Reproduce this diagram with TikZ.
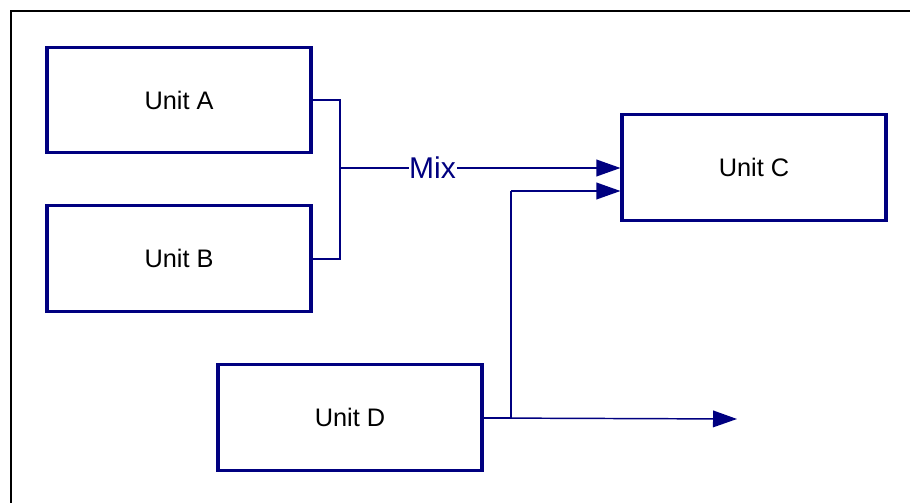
\documentclass[tikz,border=0pt]{standalone}
\usepackage{fontspec}
\setmainfont{Liberation Sans}
\usetikzlibrary{arrows.meta}
\definecolor{navy}{HTML}{000080}
\begin{document}
\begin{tikzpicture}[x=0.75pt,y=-0.75pt,
  unitbox/.style={draw=navy,line width=2.3pt,minimum width=198pt,minimum height=79pt,inner sep=0pt,font=\fontsize{19}{22}\selectfont,text=black},
  conn/.style={draw=navy,line width=1.1pt},
  arr/.style={conn,-{Triangle[length=18pt,width=12.5pt]}},
  lbl/.style={fill=white,text=navy,inner sep=0.5pt,font=\fontsize{22.5}{26}\selectfont}]
\useasboundingbox (0,0) rectangle (910,503);
\draw[line width=1.6pt] (11,503) -- (11,11) -- (910,11);
\node[unitbox] (A) at (179,100) {Unit A};
\node[unitbox] (B) at (179,258.5) {Unit B};
\node[unitbox] (C) at (754,167.5) {Unit C};
\node[unitbox] (D) at (350,417.5) {Unit D};
\coordinate (J) at (340,168);
\coordinate (K) at (511,191);
\coordinate (E) at (737,419);
\draw[conn] (A.east |- 0,100) -- (340,100) -- (340,259) -- (B.east |- 0,259);
\draw[arr] (J) -- node[lbl,pos=0.33] {Mix} (C.west |- J);
\draw[conn] (D.east |- 0,418) -- (K |- 0,418) -- (K);
\draw[arr] (K) -- (C.west |- K);
\draw[arr] (D.east |- 0,418) -- (E);
\end{tikzpicture}
\end{document}
